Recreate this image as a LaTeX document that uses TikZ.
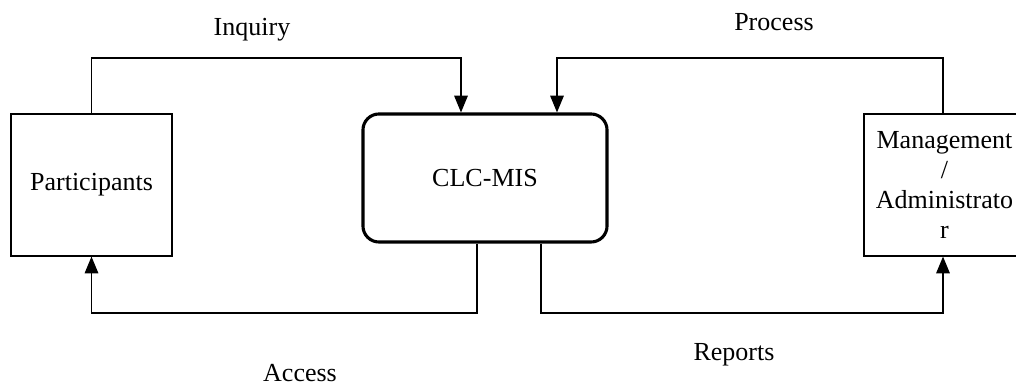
\documentclass[tikz,border=0pt]{standalone}
\usepackage{fontspec}
\setmainfont{Liberation Serif}
\usetikzlibrary{arrows.meta}
\tikzset{
	flowbox/.style={draw, line width=0.8pt, minimum width=4.025cm, minimum height=3.55cm, inner sep=0pt, align=center},
	sysbox/.style={draw, line width=2.2pt, rounded corners=0.4cm, minimum width=6.1cm, minimum height=3.2cm},
	flow/.style={line width=0.9pt, -{Triangle[length=0.42cm,width=0.34cm]}},
	flowlabel/.style={inner sep=0pt}
}
\begin{document}
\begin{tikzpicture}[x=0.025cm, y=0.025cm, font=\fontsize{18.5}{21.5}\selectfont, line join=miter]
	\clip (0,0) rectangle (1016,387);
	% boxes
	\node[flowbox] (part) at (91.5,202) {Participants};
	\node[sysbox] (clc) at (485,209) {CLC-MIS};
	\node[flowbox] (mgmt) at (944.5,202) {Management\\/\\Administrato\\r};
	% corners of the connectors
	\coordinate (inqtop) at (461,329);
	\coordinate (protop) at (557,329);
	\coordinate (accbot) at (477,74);
	\coordinate (repbot) at (541,74);
	% connectors
	\draw[flow] (part.north) |- (inqtop) -- (inqtop |- clc.north);
	\draw[flow] (943,0 |- mgmt.north) |- (protop) -- (protop |- clc.north);
	\draw[flow] (accbot |- clc.south) -- (accbot) -| (part.south);
	\draw[flow] (repbot |- clc.south) -- (repbot) -| (943,0 |- mgmt.south);
	% labels
	\node[flowlabel] (inquiry) at (252,357) {Inquiry};
	\node[flowlabel] (process) at (774,365) {Process};
	\node[flowlabel] (access) at (300,14) {Access};
	\node[flowlabel] (reports) at (734,32) {Reports};
\end{tikzpicture}
\end{document}
